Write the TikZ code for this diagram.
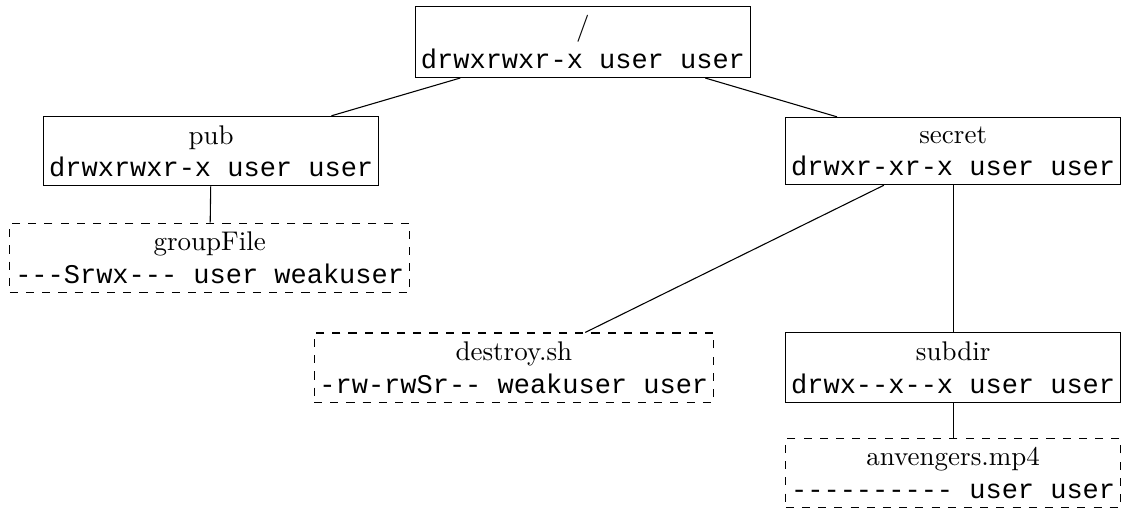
\documentclass[tikz,border=0pt]{standalone}
\usepackage{fontspec}
\setmonofont{Liberation Mono}

\tikzset{
    dirbox/.style={draw, align=center, inner xsep=2pt},
    filebox/.style={draw, dashed, align=center, inner xsep=2pt}
}

\begin{document}
\begin{tikzpicture}[line width=0.4pt]
    \useasboundingbox (0, 0) rectangle (14.66, 6.627);

    \node [dirbox] (root) at (7.59, 6.08) {/ \\ \texttt{drwxrwxr-x user user}};
    \node [dirbox] (pub) at (2.75, 4.66) {pub \\ \texttt{drwxrwxr-x user user}};
    \node [dirbox] (secret) at (12.41, 4.66) {secret \\ \texttt{drwxr-xr-x user user}};
    \node [filebox] (groupfile) at (2.73, 3.27) {groupFile \\ \texttt{---Srwx--- user weakuser}};
    \node [filebox] (destroy) at (6.69, 1.84) {destroy.sh \\ \texttt{-rw-rwSr-- weakuser user}};
    \node [dirbox] (subdir) at (12.41, 1.84) {subdir \\ \texttt{drwx--x--x user user}};
    \node [filebox] (avengers) at (12.41, 0.47) {anvengers.mp4 \\ \texttt{---------- user user}};

    \draw (root) -- (pub);
    \draw (root) -- (secret);
    \draw (pub) -- (groupfile);
    \draw (secret) -- (destroy);
    \draw (secret) -- (subdir);
    \draw (subdir) -- (avengers);
\end{tikzpicture}
\end{document}
